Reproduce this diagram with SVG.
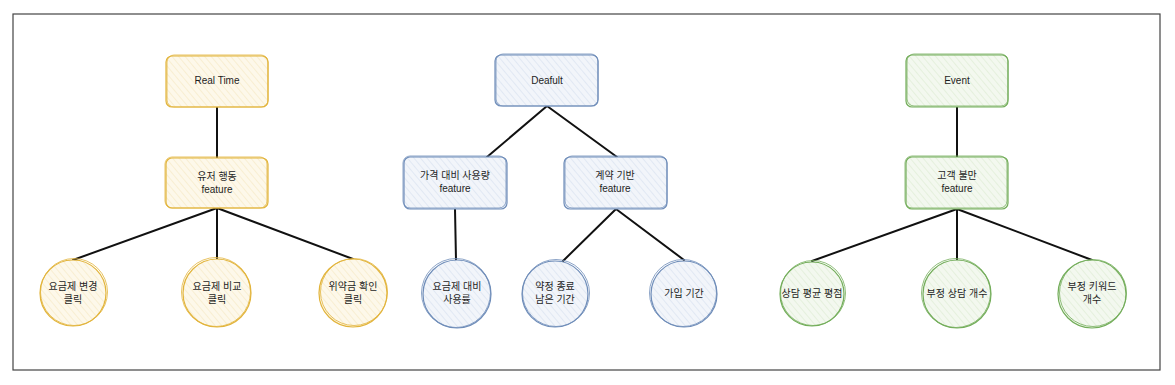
<svg xmlns="http://www.w3.org/2000/svg" width="1175" height="385" viewBox="0 0 1175 385">
<defs>
<pattern id="hy" patternUnits="userSpaceOnUse" width="5" height="5" patternTransform="rotate(-40)"><rect width="5" height="5" fill="#fdf8ea"/><line x1="0" y1="0" x2="0" y2="5" stroke="#f1dfae" stroke-width="0.8"/></pattern>
<pattern id="hb" patternUnits="userSpaceOnUse" width="5" height="5" patternTransform="rotate(-40)"><rect width="5" height="5" fill="#f2f5fa"/><line x1="0" y1="0" x2="0" y2="5" stroke="#c9d6e8" stroke-width="0.8"/></pattern>
<pattern id="hg" patternUnits="userSpaceOnUse" width="5" height="5" patternTransform="rotate(-40)"><rect width="5" height="5" fill="#f3f8ef"/><line x1="0" y1="0" x2="0" y2="5" stroke="#cfe3c3" stroke-width="0.8"/></pattern>
</defs>
<style>
text{font-family:"Liberation Sans","Noto Sans CJK KR",sans-serif;font-size:10px;fill:#1e1e1e;text-anchor:middle}
.y{fill:url(#hy);stroke:#e2b43b;stroke-width:1.2}
.b{fill:url(#hb);stroke:#6f8db9;stroke-width:1.2}
.g{fill:url(#hg);stroke:#73ad5a;stroke-width:1.2}
.y2{fill:none;stroke:#e2b43b;stroke-width:0.8}
.b2{fill:none;stroke:#6f8db9;stroke-width:0.8}
.g2{fill:none;stroke:#73ad5a;stroke-width:0.8}
.c line{stroke:#111;stroke-width:2;stroke-linecap:round}
</style>
<rect width="1175" height="385" fill="#fff"/>
<rect x="13" y="14" width="1147" height="356" fill="none" stroke="#444" stroke-width="1.2"/>
<g class="c" id="connectors">
<line x1="217" y1="107" x2="217" y2="158"/>
<line x1="217" y1="208" x2="73" y2="260"/>
<line x1="217" y1="208" x2="217" y2="260"/>
<line x1="217" y1="208" x2="353" y2="259"/>
<line x1="547" y1="106" x2="487" y2="157"/>
<line x1="547" y1="106" x2="617" y2="157"/>
<line x1="455" y1="209" x2="456" y2="260"/>
<line x1="616" y1="209" x2="563" y2="261"/>
<line x1="616" y1="209" x2="684" y2="260"/>
<line x1="957" y1="107" x2="957" y2="157"/>
<line x1="957" y1="209" x2="812" y2="261"/>
<line x1="957" y1="209" x2="957" y2="260"/>
<line x1="957" y1="209" x2="1092" y2="260"/>
</g>
<g id="realtime"><rect class="y" x="166" y="56" width="102" height="51" rx="6"/><rect class="y2" x="167" y="55" width="101" height="52" rx="7"/><text x="217" y="84">Real Time</text></g>
<g id="user"><rect class="y" x="166" y="158" width="102" height="50" rx="6"/><rect class="y2" x="165" y="157" width="102" height="51" rx="7"/><text x="217" y="180">유저 행동</text><text x="217" y="193">feature</text></g>
<g id="y1"><circle class="y" cx="73" cy="293" r="33"/><circle class="y2" cx="74" cy="292" r="33.5"/><text x="73" y="290">요금제 변경</text><text x="73" y="303">클릭</text></g>
<g id="y2"><circle class="y" cx="217" cy="293" r="34"/><circle class="y2" cx="216" cy="292" r="34.5"/><text x="217" y="290">요금제 비교</text><text x="217" y="303">클릭</text></g>
<g id="y3"><circle class="y" cx="353" cy="293" r="34"/><circle class="y2" cx="354" cy="292" r="33.5"/><text x="353" y="290">위약금 확인</text><text x="353" y="303">클릭</text></g>

<g id="default"><rect class="b" x="495" y="55" width="103" height="51" rx="6"/><rect class="b2" x="496" y="54" width="102" height="52" rx="7"/><text x="547" y="84">Deafult</text></g>
<g id="price"><rect class="b" x="404" y="157" width="103" height="52" rx="6"/><rect class="b2" x="403" y="156" width="103" height="52" rx="7"/><text x="455" y="179">가격 대비 사용량</text><text x="455" y="192">feature</text></g>
<g id="contract"><rect class="b" x="564" y="157" width="103" height="52" rx="6"/><rect class="b2" x="565" y="156" width="102" height="52" rx="7"/><text x="615" y="179">계약 기반</text><text x="615" y="192">feature</text></g>
<g id="b1"><circle class="b" cx="457" cy="294" r="34"/><circle class="b2" cx="456" cy="293" r="34.5"/><text x="457" y="290">요금제 대비</text><text x="457" y="303">사용률</text></g>
<g id="b2"><circle class="b" cx="555" cy="294" r="33"/><circle class="b2" cx="556" cy="293" r="33.5"/><text x="555" y="290">약정 종료</text><text x="555" y="303">남은 기간</text></g>
<g id="b3"><circle class="b" cx="684" cy="294" r="33"/><circle class="b2" cx="683" cy="293" r="33.5"/><text x="684" y="297">가입 기간</text></g>

<g id="event"><rect class="g" x="906" y="55" width="102" height="52" rx="6"/><rect class="g2" x="907" y="54" width="101" height="52" rx="7"/><text x="957" y="84">Event</text></g>
<g id="complain"><rect class="g" x="906" y="157" width="102" height="52" rx="6"/><rect class="g2" x="905" y="156" width="102" height="52" rx="7"/><text x="957" y="179">고객 불만</text><text x="957" y="192">feature</text></g>
<g id="g1"><circle class="g" cx="812" cy="294" r="32"/><circle class="g2" cx="813" cy="293" r="32.5"/><text x="812" y="297">상담 평균 평점</text></g>
<g id="g2"><circle class="g" cx="957" cy="294" r="34"/><circle class="g2" cx="956" cy="293" r="34.5"/><text x="957" y="297">부정 상담 개수</text></g>
<g id="g3"><circle class="g" cx="1092" cy="294" r="34"/><circle class="g2" cx="1093" cy="293" r="33.5"/><text x="1092" y="290">부정 키워드</text><text x="1092" y="303">개수</text></g>
</svg>
